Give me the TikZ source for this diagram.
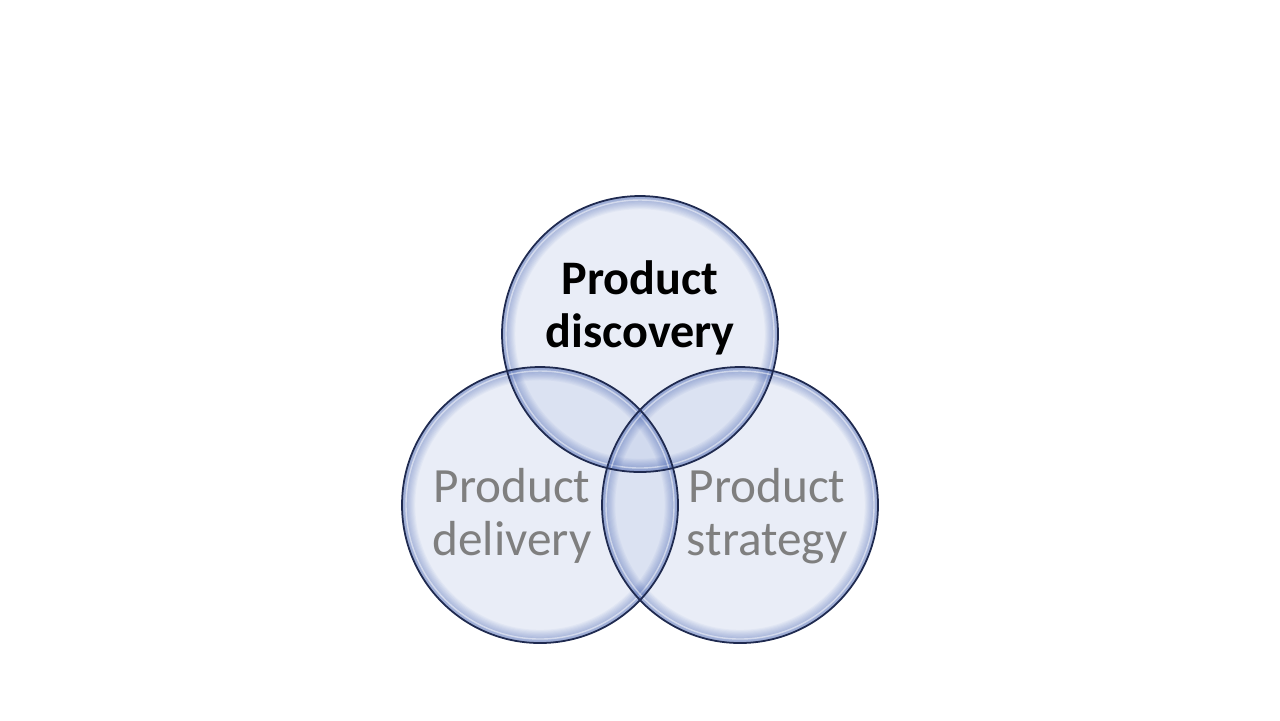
\documentclass[tikz,border=0pt]{standalone}
\usepackage{fontspec}
\setmainfont{Carlito}
\usepackage{tikz}
\usetikzlibrary{positioning}
\definecolor{ringfill}{RGB}{192,204,232}
\definecolor{ringedge}{RGB}{31,42,80}
\definecolor{ringglow}{RGB}{66,96,176}
\definecolor{labelgray}{RGB}{127,127,127}

\begin{document}
\begin{tikzpicture}[x=0.01cm, y=-0.01cm,
    ring/.style={circle, minimum size=2.76cm, inner sep=0pt, fill=ringfill, fill opacity=0.35},
    mainlabel/.style={align=center, font=\fontsize{13.7}{15}\selectfont\bfseries},
    sidelabel/.style={align=center, text=labelgray, font=\fontsize{14}{15.2}\selectfont}
]
    \useasboundingbox (0,0) rectangle (1280,720);

    % Circles
    \node[ring] (discovery) at (640,334) {};
    \node[ring] (delivery) at (540,505) {};
    \node[ring] (strategy) at (740,505) {};

    % Rim glow
    \foreach \c in {discovery,delivery,strategy} {
        \begin{scope}
            \clip (\c.center) circle[radius=138];
            \foreach \i in {1,...,12} {
                \pgfmathsetmacro\lw{\i*0.022}
                \draw[ringglow, line width=\lw cm, opacity=0.05] (\c.center) circle[radius=138];
            }
            \draw[white, line width=0.4pt, opacity=0.5] (\c.center) circle[radius=134];
        \end{scope}
    }

    % Outlines
    \foreach \c in {discovery,delivery,strategy}
        \draw[ringedge, line width=0.5pt] (\c.center) circle[radius=138];

    % Labels
    \node[mainlabel] (discoverytext) at (640,308) {Product\\discovery};
    \node[sidelabel] (deliverytext) at (512,516) {Product\\delivery};
    \node[sidelabel] (strategytext) at (767,516) {Product\\strategy};
\end{tikzpicture}
\end{document}
